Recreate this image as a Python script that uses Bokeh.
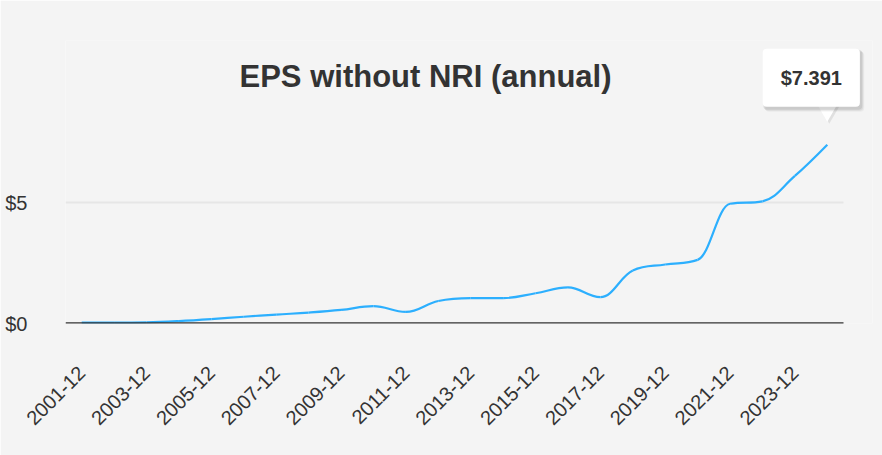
import math
from bokeh.plotting import figure
from bokeh.models import Range1d, FixedTicker, Label, NumeralTickFormatter, BoxAnnotation
from bokeh.embed import file_html
from bokeh.resources import INLINE

# ---- data ----
years = list(range(2001, 2025))
x_labels = [f"{y}-12" for y in years]
eps = [0.04, 0.04, 0.05, 0.10, 0.18, 0.28, 0.37, 0.45, 0.56, 0.72, 0.48, 0.93,
       1.05, 1.05, 1.25, 1.49, 1.09, 2.19, 2.44, 2.63, 4.95, 5.05, 6.10, 7.391]
y_ticks = [0, 5]
title_text = "EPS without NRI (annual)"

idx = list(range(len(years)))

# ---- layout constants ----
W, H = 882, 455
B_LEFT, B_RIGHT, B_TOP, B_BOTTOM = 65, 10, 40, 132
PLOT_W = 778                      # width of the plotted (grid) area
Y_MAX = 11.7
px_per_x = PLOT_W / len(years)
frame_w = W - B_LEFT - B_RIGHT
frame_h = H - B_TOP - B_BOTTOM
px_per_y = frame_h / Y_MAX
x_start = -0.5
x_end = x_start + frame_w / px_per_x
plot_x_end = len(years) - 0.5

p = figure(width=W, height=H, output_backend="svg", toolbar_location=None,
           x_range=Range1d(x_start, x_end), y_range=Range1d(0, Y_MAX),
           min_border_left=B_LEFT, min_border_right=B_RIGHT,
           min_border_top=B_TOP, min_border_bottom=B_BOTTOM)
p.background_fill_color = "#f4f4f4"
p.border_fill_color = "#f4f4f4"
p.outline_line_color = None

# grid line at $5 and axis line at $0, spanning the category range
p.segment(x0=[x_start], x1=[plot_x_end], y0=[y_ticks[1]], y1=[y_ticks[1]],
          line_color="#e6e6e6", line_width=2)

# spline (Highcharts-style) control points computed from data
n = len(eps)
smoothing = 1.5
denom = smoothing + 1
rc = [None] * n
lc = [None] * n
for i in range(1, n - 1):
    px, py = idx[i], eps[i]
    lx, ly = idx[i - 1], eps[i - 1]
    nx, ny = idx[i + 1], eps[i + 1]
    lcx = (smoothing * px + lx) / denom
    lcy = (smoothing * py + ly) / denom
    rcx = (smoothing * px + nx) / denom
    rcy = (smoothing * py + ny) / denom
    corr = 0
    if rcx != lcx:
        corr = (rcy - lcy) * (rcx - px) / (rcx - lcx) + py - rcy
    lcy += corr
    rcy += corr
    if lcy > ly and lcy > py:
        lcy = max(ly, py); rcy = 2 * py - lcy
    elif lcy < ly and lcy < py:
        lcy = min(ly, py); rcy = 2 * py - lcy
    if rcy > ny and rcy > py:
        rcy = max(ny, py); lcy = 2 * py - rcy
    elif rcy < ny and rcy < py:
        rcy = min(ny, py); lcy = 2 * py - rcy
    lc[i] = (lcx, lcy)
    rc[i] = (rcx, rcy)

x0, y0, x1, y1, cx0, cy0, cx1, cy1 = [], [], [], [], [], [], [], []
for i in range(1, n):
    a = rc[i - 1] if rc[i - 1] else (idx[i - 1], eps[i - 1])
    b = lc[i] if lc[i] else (idx[i], eps[i])
    x0.append(idx[i - 1]); y0.append(eps[i - 1])
    x1.append(idx[i]); y1.append(eps[i])
    cx0.append(a[0]); cy0.append(a[1])
    cx1.append(b[0]); cy1.append(b[1])

p.bezier(x0=x0, y0=y0, x1=x1, y1=y1, cx0=cx0, cy0=cy0, cx1=cx1, cy1=cy1,
         line_color="#2caffe", line_width=2.2)

p.segment(x0=[x_start], x1=[plot_x_end], y0=[y_ticks[0]], y1=[y_ticks[0]],
          line_color="#333333", line_width=2.5)

# title (drawn inside the frame area, positioned from layout constants)
title_cx = x_start + (425 - B_LEFT) / px_per_x
title_cy = (H - B_BOTTOM - 76) / px_per_y
p.add_layout(Label(x=title_cx, y=title_cy, text=title_text,
                   text_align="center", text_baseline="middle",
                   text_font="Liberation Sans", text_font_size="31px",
                   text_font_style="bold", text_color="#333333"))

# axes
p.xaxis.ticker = FixedTicker(ticks=idx[::2])
p.xaxis.major_label_overrides = {i: x_labels[i] for i in idx}
p.xaxis.major_label_orientation = math.pi / 4
p.xaxis.major_label_text_font = "Liberation Sans"
p.xaxis.major_label_text_font_size = "20px"
p.xaxis.major_label_text_color = "#333333"
p.xaxis.major_label_standoff = 40
p.xaxis.axis_line_color = None
p.xaxis.major_tick_line_color = None
p.xaxis.minor_tick_line_color = None

p.yaxis.ticker = FixedTicker(ticks=y_ticks)
p.yaxis.formatter = NumeralTickFormatter(format="$0")
p.yaxis.major_label_text_font = "Liberation Sans"
p.yaxis.major_label_text_font_size = "20px"
p.yaxis.major_label_text_color = "#333333"
p.yaxis.major_label_standoff = 32
p.yaxis.axis_line_color = None
p.yaxis.major_tick_line_color = None
p.yaxis.minor_tick_line_color = None

p.xgrid.grid_line_color = None
p.ygrid.grid_line_color = None

# tooltip on last point
lx, ly = idx[-1], eps[-1]
# soft shadow behind the tooltip box (box spans -66..+33 px, 37..97 px above point)
for off, alpha in ((4, 0.04), (3, 0.06), (2, 0.08)):
    p.add_layout(BoxAnnotation(left=lx + (-66 + off) / px_per_x,
                               right=lx + (33 + off) / px_per_x,
                               bottom=ly + (37 - off) / px_per_y,
                               top=ly + (97 - off) / px_per_y,
                               fill_color="black", fill_alpha=alpha,
                               line_color=None, border_radius=4))
p.scatter(x=[lx + 2 / px_per_x], y=[ly + 32.5 / px_per_y], marker="inverted_triangle",
          size=20, fill_color="#000000", fill_alpha=0.08, line_color=None)
p.scatter(x=[lx], y=[ly + 34.5 / px_per_y], marker="inverted_triangle", size=20,
          fill_color="white", line_color=None)
tip = Label(x=lx, y=ly, x_offset=-16, y_offset=67, text=f"${ly:.3f}",
            text_align="center", text_baseline="middle",
            text_font="Liberation Sans", text_font_size="20px", text_font_style="bold",
            text_color="#333333", background_fill_color="white",
            border_line_color=None,
            border_radius=4, padding=18)
p.add_layout(tip)

open("out.html", "w").write(file_html(p, INLINE))
